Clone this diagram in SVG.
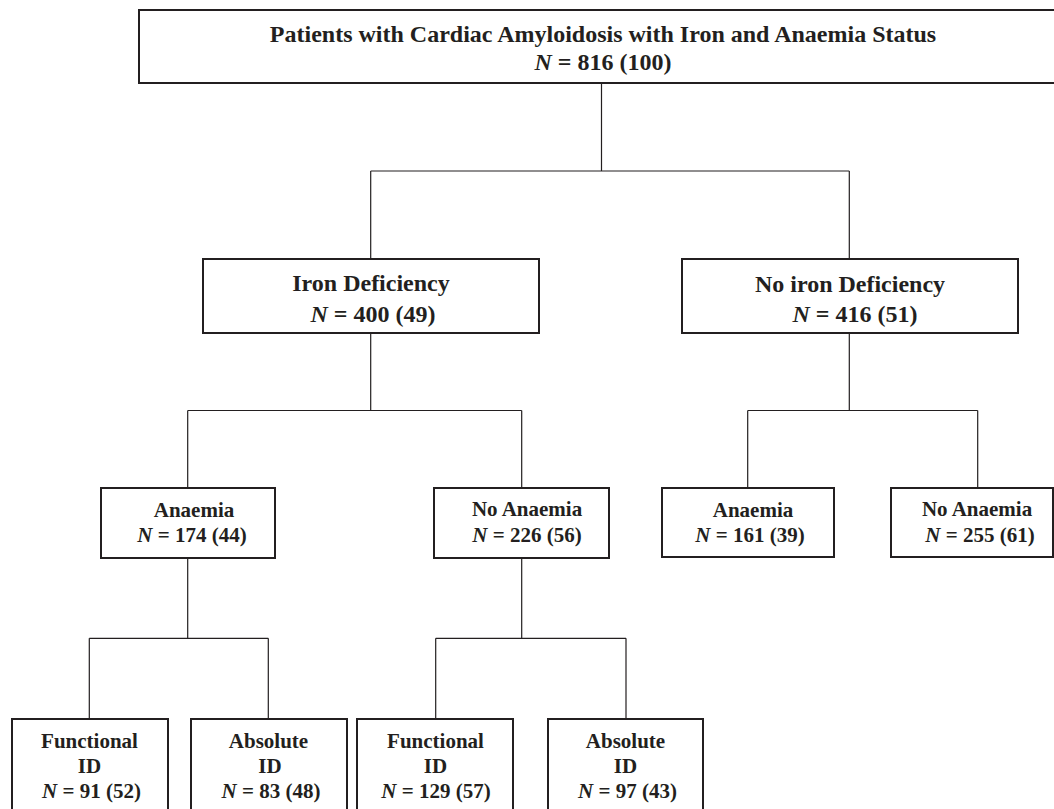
<svg xmlns="http://www.w3.org/2000/svg" width="1054" height="809" viewBox="0 0 1054 809">
<style>
.box{fill:#fff;stroke:#231f20;stroke-width:2}
.t1{font-family:"Liberation Serif","Times New Roman",serif;font-weight:bold;font-size:24px;fill:#231f20;text-anchor:middle}
.t2{font-family:"Liberation Serif","Times New Roman",serif;font-weight:bold;font-size:21px;fill:#231f20;text-anchor:middle}
.i{font-style:italic}
.con{fill:none;stroke:#231f20;stroke-width:1.2}
</style>
<rect width="1054" height="809" fill="#fff"/>
<g id="connectors">
<path class="con" d="M601.5,83 V171 M370.7,171 H849.3 M370.7,171 V259 M849.3,171 V259"/>
<path class="con" d="M370.7,333 V410.5 M187.7,410.5 H521.7 M187.7,410.5 V488 M521.7,410.5 V488"/>
<path class="con" d="M849.3,333 V410.5 M747.7,410.5 H977.7 M747.7,410.5 V488 M977.7,410.5 V488"/>
<path class="con" d="M187.7,558 V638.3 M89.3,638.3 H268.3 M89.3,638.3 V719 M268.3,638.3 V719"/>
<path class="con" d="M521.7,558 V638.3 M435.7,638.3 H626 M435.7,638.3 V719 M626,638.3 V719"/>
</g>
<g id="root">
<rect class="box" x="139" y="10" width="924" height="73"/>
<text class="t1" x="603" y="42">Patients with Cardiac Amyloidosis with Iron and Anaemia Status</text>
<text class="t1" x="603" y="70"><tspan class="i">N</tspan> = 816 (100)</text>
</g>
<g id="iron-deficiency">
<rect class="box" x="203" y="259" width="336" height="74"/>
<text class="t1" x="371" y="291">Iron Deficiency</text>
<text class="t1" x="373" y="322"><tspan class="i">N</tspan> = 400 (49)</text>
</g>
<g id="no-iron-deficiency">
<rect class="box" x="682" y="259" width="336" height="74"/>
<text class="t1" x="850" y="292">No iron Deficiency</text>
<text class="t1" x="855" y="322"><tspan class="i">N</tspan> = 416 (51)</text>
</g>
<g id="id-anaemia">
<rect class="box" x="101" y="488" width="174" height="70"/>
<text class="t2" x="194" y="517">Anaemia</text>
<text class="t2" x="192" y="542"><tspan class="i">N</tspan> = 174 (44)</text>
</g>
<g id="id-no-anaemia">
<rect class="box" x="434" y="488" width="175" height="70"/>
<text class="t2" x="527" y="516">No Anaemia</text>
<text class="t2" x="527" y="542"><tspan class="i">N</tspan> = 226 (56)</text>
</g>
<g id="nid-anaemia">
<rect class="box" x="662" y="488" width="172" height="69"/>
<text class="t2" x="753" y="517">Anaemia</text>
<text class="t2" x="750" y="542"><tspan class="i">N</tspan> = 161 (39)</text>
</g>
<g id="nid-no-anaemia">
<rect class="box" x="891" y="488" width="162" height="69"/>
<text class="t2" x="977" y="516">No Anaemia</text>
<text class="t2" x="980" y="542"><tspan class="i">N</tspan> = 255 (61)</text>
</g>
<g id="anaemia-functional">
<rect class="box" x="12" y="719" width="156" height="110"/>
<text class="t2" x="89.5" y="748">Functional</text>
<text class="t2" x="89.5" y="773">ID</text>
<text class="t2" x="91.5" y="798"><tspan class="i">N</tspan> = 91 (52)</text>
</g>
<g id="anaemia-absolute">
<rect class="box" x="191" y="719" width="156" height="110"/>
<text class="t2" x="268.5" y="748">Absolute</text>
<text class="t2" x="270" y="773">ID</text>
<text class="t2" x="271" y="798"><tspan class="i">N</tspan> = 83 (48)</text>
</g>
<g id="noanaemia-functional">
<rect class="box" x="357" y="719" width="156" height="110"/>
<text class="t2" x="435.5" y="748">Functional</text>
<text class="t2" x="435.5" y="773">ID</text>
<text class="t2" x="436" y="798"><tspan class="i">N</tspan> = 129 (57)</text>
</g>
<g id="noanaemia-absolute">
<rect class="box" x="548" y="719" width="155" height="110"/>
<text class="t2" x="625.5" y="748">Absolute</text>
<text class="t2" x="625.5" y="773">ID</text>
<text class="t2" x="627.5" y="798"><tspan class="i">N</tspan> = 97 (43)</text>
</g>
</svg>
